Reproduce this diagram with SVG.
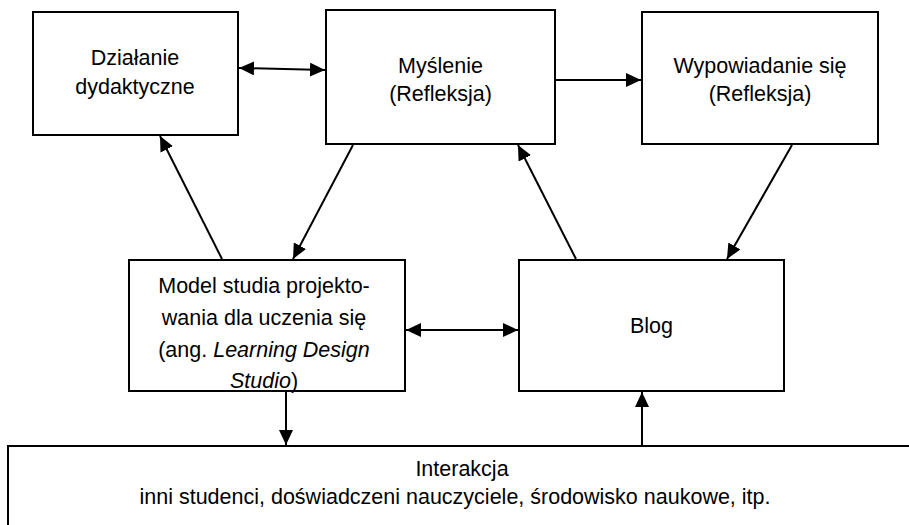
<svg xmlns="http://www.w3.org/2000/svg" width="909" height="525" viewBox="0 0 909 525">
<defs>
<marker id="ah" markerUnits="userSpaceOnUse" markerWidth="16" markerHeight="14" refX="15" refY="7" orient="auto-start-reverse">
<path d="M0,0 L15,7 L0,14 z" fill="#000"/>
</marker>
<style>
.box{fill:#fff;stroke:#000;stroke-width:2}
.t{font-family:"Liberation Sans",Arial,sans-serif;font-size:21.5px;fill:#000;text-anchor:middle}
.c{stroke:#000;stroke-width:2;fill:none}
.one{marker-end:url(#ah)}
.two{marker-start:url(#ah);marker-end:url(#ah)}
</style>
</defs>
<rect width="909" height="525" fill="#fff"/>
<g id="dzialanie">
<rect class="box" x="33" y="12" width="205" height="123"/>
<text class="t" x="135" y="65">Działanie</text>
<text class="t" x="135" y="94">dydaktyczne</text>
</g>
<g id="myslenie">
<rect class="box" x="326" y="10" width="229" height="134"/>
<text class="t" x="440.5" y="73">Myślenie</text>
<text class="t" x="440.5" y="101">(Refleksja)</text>
</g>
<g id="wypowiadanie">
<rect class="box" x="642" y="12" width="236" height="132"/>
<text class="t" x="760" y="73">Wypowiadanie się</text>
<text class="t" x="760" y="101">(Refleksja)</text>
</g>
<g id="model">
<rect class="box" x="129" y="260" width="276" height="131"/>
<text class="t" font-size="22" x="264" y="293">Model studia projekto-</text>
<text class="t" font-size="22" x="264" y="325">wania dla uczenia się</text>
<text class="t" font-size="22" x="264" y="357">(ang. <tspan font-style="italic">Learning Design</tspan></text>
<text class="t" font-size="22" x="264" y="388"><tspan font-style="italic">Studio</tspan>)</text>
</g>
<g id="blog">
<rect class="box" x="519" y="260" width="265" height="131"/>
<text class="t" x="651.5" y="333">Blog</text>
</g>
<g id="interakcja">
<rect class="box" x="8" y="446" width="910" height="100"/>
<text class="t" x="462" y="476">Interakcja</text>
<text class="t" font-size="22" x="455" y="504">inni studenci, doświadczeni nauczyciele, środowisko naukowe, itp.</text>
</g>
<g id="connectors">
<line class="c two" x1="239" y1="68" x2="325" y2="70"/>
<line class="c one" x1="555" y1="80" x2="641" y2="80"/>
<line class="c one" x1="222" y1="259" x2="160" y2="136"/>
<line class="c one" x1="353" y1="145" x2="293" y2="259"/>
<line class="c one" x1="576" y1="259" x2="518" y2="145"/>
<line class="c one" x1="792" y1="145" x2="727" y2="259"/>
<line class="c two" x1="406" y1="330" x2="518" y2="330"/>
<line class="c one" x1="286" y1="391" x2="286" y2="445"/>
<line class="c one" x1="642" y1="446" x2="642" y2="392"/>
</g>
</svg>
